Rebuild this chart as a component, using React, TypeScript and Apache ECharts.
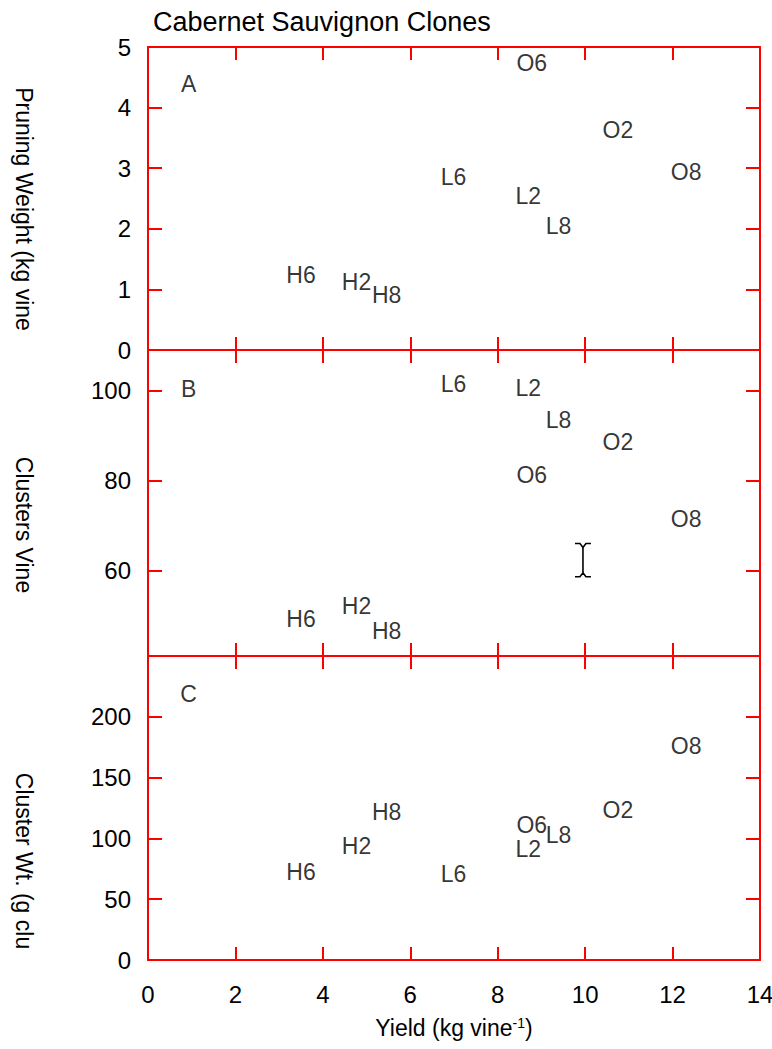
import React, { useEffect, useRef } from 'react';
import * as echarts from 'echarts';

// ---- data ----
const clones = ['H2', 'H6', 'H8', 'L2', 'L6', 'L8', 'O2', 'O6', 'O8'];
const yieldKg = [4.77, 3.5, 5.46, 8.7, 6.99, 9.39, 10.75, 8.78, 12.31];
const pruningWeight = [1.12, 1.23, 0.91, 2.54, 2.86, 2.04, 3.63, 4.73, 2.93];
const clustersPerVine = [52.2, 49.3, 46.5, 100.5, 101.5, 93.4, 88.6, 81.3, 71.4];
const clusterWeight = [93.8, 72.6, 121.5, 91.0, 70.7, 102.4, 123.1, 110.9, 175.8];

const panelLetters = ['A', 'B', 'C'];
const panelLetterX = 0.93;
const panelLetterY = [4.39, 100.4, 219];

const errorBarX = 9.95;
const errorBarLow = 58.6;
const errorBarHigh = 66.0;

const xRange = [0, 14];
const xInterval = 2;
const panelAYRange = [0, 5];
const panelAYInterval = 1;
const panelBYRange = [41, 109];
const panelBYTicks = [60, 80, 100];
const panelCYRange = [0, 250];
const panelCYInterval = 50;

const titleText = 'Cabernet Sauvignon Clones';
const yNames = ['Pruning Weight (kg vine', 'Clusters Vine', 'Cluster Wt. (g clu'];

const FONT = '"Liberation Sans", Arial, Helvetica, sans-serif';
const RED = '#ff0000';
const INK = '#000000';

export default function App() {
  const ref = useRef<HTMLDivElement>(null);

  useEffect(() => {
    if (!ref.current) return;
    const chart = echarts.init(ref.current, null, { renderer: 'svg' });

    const gridBase = { left: 148, width: 612, containLabel: false, outerBoundsMode: 'none' };
    const grids = [
      { ...gridBase, top: 47, height: 303 },
      { ...gridBase, top: 350, height: 306 },
      { ...gridBase, top: 656, height: 304 },
    ];

    const axisLine = { show: true, onZero: false, lineStyle: { color: RED, width: 2 } };

    const xAxes: any[] = [];
    grids.forEach((_, i) => {
      ['bottom', 'top'].forEach((pos) => {
        const isMain = pos === 'bottom' && i === 2;
        xAxes.push({
          gridIndex: i,
          type: 'value',
          position: pos,
          min: xRange[0],
          max: xRange[1],
          interval: xInterval,
          axisLine,
          axisTick: { show: true, inside: true, length: 13, lineStyle: { color: RED, width: 2 } },
          axisLabel: {
            show: isMain,
            margin: 22,
            fontSize: 24,
            color: INK,
            fontFamily: FONT,
          },
          splitLine: { show: false },
          name: isMain ? '{a|Yield (kg vine}{s|-1}{a|)}' : '',
          nameLocation: 'middle',
          nameGap: 56,
          nameTextStyle: {
            fontFamily: FONT,
            fontSize: 23,
            color: INK,
            rich: {
              a: { fontSize: 23, color: INK, fontFamily: FONT },
              s: { fontSize: 14, color: INK, fontFamily: FONT, verticalAlign: 'top' },
            },
          },
        });
      });
    });

    const yCfgs = [
      { min: panelAYRange[0], max: panelAYRange[1], interval: panelAYInterval },
      { min: panelBYRange[0], max: panelBYRange[1], custom: panelBYTicks },
      { min: panelCYRange[0], max: panelCYRange[1], interval: panelCYInterval, hideMax: true },
    ];

    const yAxes: any[] = [];
    yCfgs.forEach((c: any, i) => {
      ['left', 'right'].forEach((pos) => {
        const showLab = pos === 'left';
        const ax: any = {
          gridIndex: i,
          type: 'value',
          position: pos,
          min: c.min,
          max: c.max,
          axisLine,
          axisTick: { show: true, inside: true, length: 14, lineStyle: { color: RED, width: 2 } },
          axisLabel: {
            show: showLab,
            margin: 17,
            fontSize: 24,
            color: INK,
            fontFamily: FONT,
            showMaxLabel: c.hideMax ? false : true,
          },
          splitLine: { show: false },
        };
        if (c.interval) ax.interval = c.interval;
        if (c.custom) {
          ax.axisTick.customValues = c.custom;
          ax.axisLabel.customValues = c.custom;
        }
        yAxes.push(ax);
      });
    });

    const panelValues = [pruningWeight, clustersPerVine, clusterWeight];
    const labelStyle = {
      show: true,
      position: 'inside',
      formatter: '{b}',
      color: INK,
      fontSize: 23,
      fontFamily: FONT,
    };

    const series: any[] = [];
    panelValues.forEach((vals, i) => {
      series.push({
        type: 'scatter',
        xAxisIndex: i * 2,
        yAxisIndex: i * 2,
        symbolSize: 1,
        itemStyle: { color: 'rgba(0,0,0,0)' },
        label: labelStyle,
        data: clones.map((c, j) => ({ name: c, value: [yieldKg[j], vals[j]] })),
      });
      series.push({
        type: 'scatter',
        xAxisIndex: i * 2,
        yAxisIndex: i * 2,
        symbolSize: 1,
        itemStyle: { color: 'rgba(0,0,0,0)' },
        label: labelStyle,
        data: [{ name: panelLetters[i], value: [panelLetterX, panelLetterY[i]] }],
      });
    });

    series.push({
      type: 'custom',
      xAxisIndex: 2,
      yAxisIndex: 2,
      data: [[errorBarX, errorBarLow, errorBarHigh]],
      encode: { x: 0, y: [1, 2] },
      renderItem: (params: any, api: any) => {
        const top = api.coord([api.value(0), api.value(2)]);
        const bot = api.coord([api.value(0), api.value(1)]);
        const x = top[0];
        const st = { stroke: '#000', lineWidth: 1.6, fill: null };
        return {
          type: 'group',
          children: [
            { type: 'line', shape: { x1: x, y1: top[1] + 4, x2: x, y2: bot[1] - 4 }, style: st },
            {
              type: 'polyline',
              shape: { points: [[x - 8, top[1]], [x - 3, top[1]], [x, top[1] + 4], [x + 3, top[1]], [x + 8, top[1]]] },
              style: st,
            },
            {
              type: 'polyline',
              shape: { points: [[x - 8, bot[1]], [x - 3, bot[1]], [x, bot[1] - 4], [x + 3, bot[1]], [x + 8, bot[1]]] },
              style: st,
            },
          ],
        };
      },
    });

    const nameCenters = [209, 525, 861];
    const graphic: any[] = [
      {
        type: 'text',
        left: 153,
        top: 8,
        style: { text: titleText, fontSize: 27, fontFamily: FONT, fill: INK },
      },
      ...yNames.map((t, i) => ({
        type: 'text',
        x: 24,
        y: nameCenters[i],
        rotation: -Math.PI / 2,
        style: {
          text: t,
          fontSize: 23,
          fontFamily: FONT,
          fill: INK,
          textAlign: 'center',
          textVerticalAlign: 'middle',
        },
      })),
    ];

    chart.setOption({
      animation: false,
      backgroundColor: '#ffffff',
      grid: grids,
      xAxis: xAxes,
      yAxis: yAxes,
      series,
      graphic,
    });

    return () => chart.dispose();
  }, []);

  return (
    <div
      ref={ref}
      style={{ position: 'absolute', left: 0, top: 0, width: 772, height: 1049, background: '#fff' }}
    />
  );
}
